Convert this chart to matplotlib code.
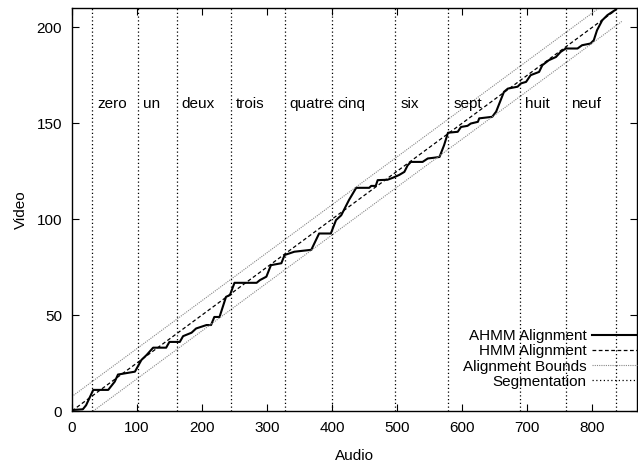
import matplotlib
matplotlib.use("Agg")
import matplotlib.pyplot as plt
import numpy as np

plt.rcParams['font.family'] = ['Liberation Sans', 'DejaVu Sans']

# Segmentation boundaries (audio frames) and word labels
seg_bounds = [31, 101, 161, 244, 327, 400, 497, 578, 689, 759, 836]
seg_words = ["zero", "un", "deux", "trois", "quatre", "cinq", "six", "sept", "huit", "neuf"]

# AHMM alignment path
ahmm_x = [0, 17, 22, 33, 56, 66, 71, 97, 107, 115, 125, 145, 150, 166, 171, 184, 191, 207, 214,
          219, 227, 237, 243, 250, 284, 289, 299, 306, 322, 327, 342, 368, 380, 398, 406, 414,
          426, 437, 457, 460, 467, 470, 485, 493, 503, 511, 516, 521, 539, 547, 557, 565, 572,
          578, 593, 598, 608, 613, 624, 626, 646, 652, 664, 670, 685, 690, 698, 705, 718, 723,
          733, 744, 751, 759, 777, 784, 797, 802, 807, 815, 823, 836]
ahmm_y = [0.5, 0.9, 3, 11, 11, 15.3, 19, 20.5, 26.6, 29.2, 33, 33, 36, 36, 39, 40.8, 43, 44.8, 44.8,
          49, 49, 59.5, 60.4, 66.8, 66.8, 68.2, 70, 76, 77, 81.3, 83, 84, 92.5, 92.5, 99.5, 102,
          110, 116.3, 116.3, 117.3, 117.3, 120.3, 120.5, 121.5, 123, 124.6, 128, 129.8, 129.8, 131.6,
          132, 132.4, 138.5, 145, 145.5, 148, 148.6, 149.8, 150.7, 152.5, 153.3, 156, 166.3, 168,
          169, 170.7, 171.5, 175, 176.7, 180.2, 182.8, 184.5, 187.1, 188.9, 188.9, 190.6, 191.5,
          193.2, 198.4, 203.6, 206.3, 209.2]

# HMM alignment (straight line) endpoints
hmm_x = [0, 836]
hmm_y = [0, 209]

# Alignment bounds (parallel lines)
bound_x = [0, 845]
upper_y = [7.5, 218.75]
lower_y = [-8.25, 203.0]

x_ticks = [0, 100, 200, 300, 400, 500, 600, 700, 800]
y_ticks = [0, 50, 100, 150, 200]

fig = plt.figure(figsize=(6.38, 4.63), dpi=100)
ax = fig.add_axes([0.1125, 0.1123, 0.8855, 0.8704])

l1, = ax.plot(ahmm_x, ahmm_y, color='black', lw=1.5, label='AHMM Alignment')
l2, = ax.plot(hmm_x, hmm_y, color='black', lw=0.9, linestyle=(0, (3, 2)), label='HMM Alignment')
l3, = ax.plot(bound_x, upper_y, color='#888888', lw=0.8, linestyle=(0, (1, 1)), label='Alignment Bounds')
ax.plot(bound_x, lower_y, color='#888888', lw=0.8, linestyle=(0, (1, 1)))
l4 = None
for i, s in enumerate(seg_bounds):
    ln = ax.axvline(s, color='black', lw=0.9, linestyle=(0, (1, 2)),
                    label='Segmentation' if i == 0 else None)
    if i == 0:
        l4 = ln
for s, w in zip(seg_bounds[:-1], seg_words):
    ax.text(s + 8, 160, w, fontsize=11, ha='left', va='center')

ax.set_xlim(0, 868)
ax.set_ylim(0, 210)
ax.set_xticks(x_ticks)
ax.set_yticks(y_ticks)
ax.tick_params(direction='in', top=True, right=True, length=5, labelsize=11, pad=7)
for sp in ax.spines.values():
    sp.set_linewidth(1.0)
ax.set_xlabel('Audio', fontsize=11, labelpad=10)
ax.set_ylabel('Video', fontsize=11, labelpad=6)

leg = ax.legend(handles=[l1, l2, l3, l4], loc='lower right', bbox_to_anchor=(1.0, 0.055),
                markerfirst=False, frameon=False, fontsize=11, handlelength=2.9,
                handletextpad=0.4, labelspacing=0.08, borderaxespad=0.0, borderpad=0.0)

fig.savefig('out.png', dpi=100)
